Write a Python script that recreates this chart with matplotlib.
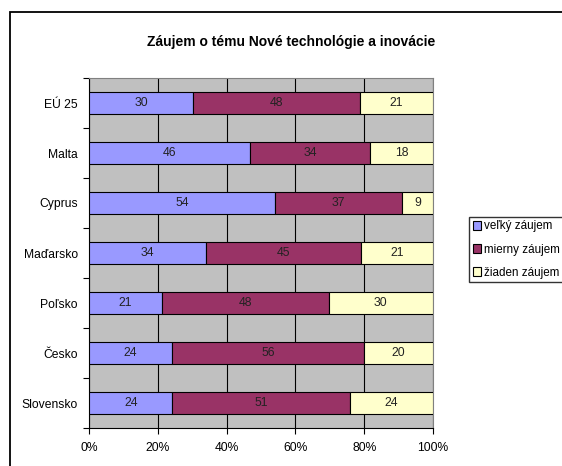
import matplotlib

matplotlib.use("Agg")

import matplotlib.pyplot as plt
import numpy as np
from matplotlib.patches import Patch, Rectangle

plt.rcParams["font.family"] = ["Liberation Sans", "DejaVu Sans"]

countries = ["EÚ 25", "Malta", "Cyprus", "Maďarsko", "Poľsko", "Česko", "Slovensko"]
velky = [30, 46, 54, 34, 21, 24, 24]
mierny = [48, 34, 37, 45, 48, 56, 51]
ziaden = [21, 18, 9, 21, 30, 20, 24]
series_names = ["veľký záujem", "mierny záujem", "žiaden záujem"]
colors = ["#9999FF", "#993366", "#FFFFCC"]
title = "Záujem o tému Nové technológie a inovácie"

fig = plt.figure(figsize=(5.62, 4.66), dpi=100)
W, H = 562, 466

# outer chart border (runs off the right and bottom edge of the image)
fig.patches.append(
    Rectangle((10 / W, -0.05), 1.0, 1 - 12 / H + 0.05, transform=fig.transFigure,
              fill=False, edgecolor="black", linewidth=1.3)
)

ax = fig.add_axes([89 / W, (H - 428) / H, (433 - 89) / W, (428 - 78) / H])
ax.set_facecolor("#C0C0C0")

values = np.array([velky, mierny, ziaden], dtype=float)
shares = values / values.sum(axis=0) * 100
y = np.arange(len(countries))
left = np.zeros(len(countries))
for name, color, raw, share in zip(series_names, colors, values, shares):
    ax.barh(y, share, left=left, height=0.43, color=color, edgecolor="black",
            linewidth=0.8, label=name, zorder=3)
    for yi, l, s, r in zip(y, left, share, raw):
        ax.text(l + s / 2, yi, f"{int(r)}", ha="center", va="center",
                fontsize=8.8, color="#222222", zorder=4)
    left = left + share

ax.set_xlim(0, 100)
ax.set_ylim(len(countries) - 0.5, -0.5)
ax.set_xticks(np.arange(0, 101, 20))
ax.set_xticklabels([f"{v}%" for v in range(0, 101, 20)], fontsize=8.7)
ax.set_yticks(y)
ax.set_yticklabels(countries, fontsize=8.7)
ax.set_yticks(np.arange(-0.5, len(countries), 1), minor=True)
ax.tick_params(axis="y", which="major", length=0, pad=8)
ax.tick_params(axis="y", which="minor", length=4, width=0.8, direction="out")
ax.tick_params(axis="x", length=4, width=0.8, direction="out", pad=6)
ax.xaxis.grid(True, color="black", linewidth=0.8, zorder=1)
ax.set_axisbelow(True)
for side in ["top", "right"]:
    ax.spines[side].set_color("#808080")
    ax.spines[side].set_linewidth(0.8)
for side in ["left", "bottom"]:
    ax.spines[side].set_color("black")
    ax.spines[side].set_linewidth(0.8)

fig.text(291 / W, 1 - 42 / H, title, ha="center", va="center",
         fontsize=10, fontweight="bold")

handles = [Patch(facecolor=c, edgecolor="black", linewidth=0.8) for c in colors]
fig.legend(handles, series_names, loc="upper left",
           bbox_to_anchor=(469 / W, 1 - 217 / H), fontsize=8.4, frameon=True,
           fancybox=False, edgecolor="black", handlelength=0.7, handleheight=0.7,
           handletextpad=0.25, labelspacing=0.95, borderpad=0.3, borderaxespad=0)

fig.savefig("out.png", dpi=100)
